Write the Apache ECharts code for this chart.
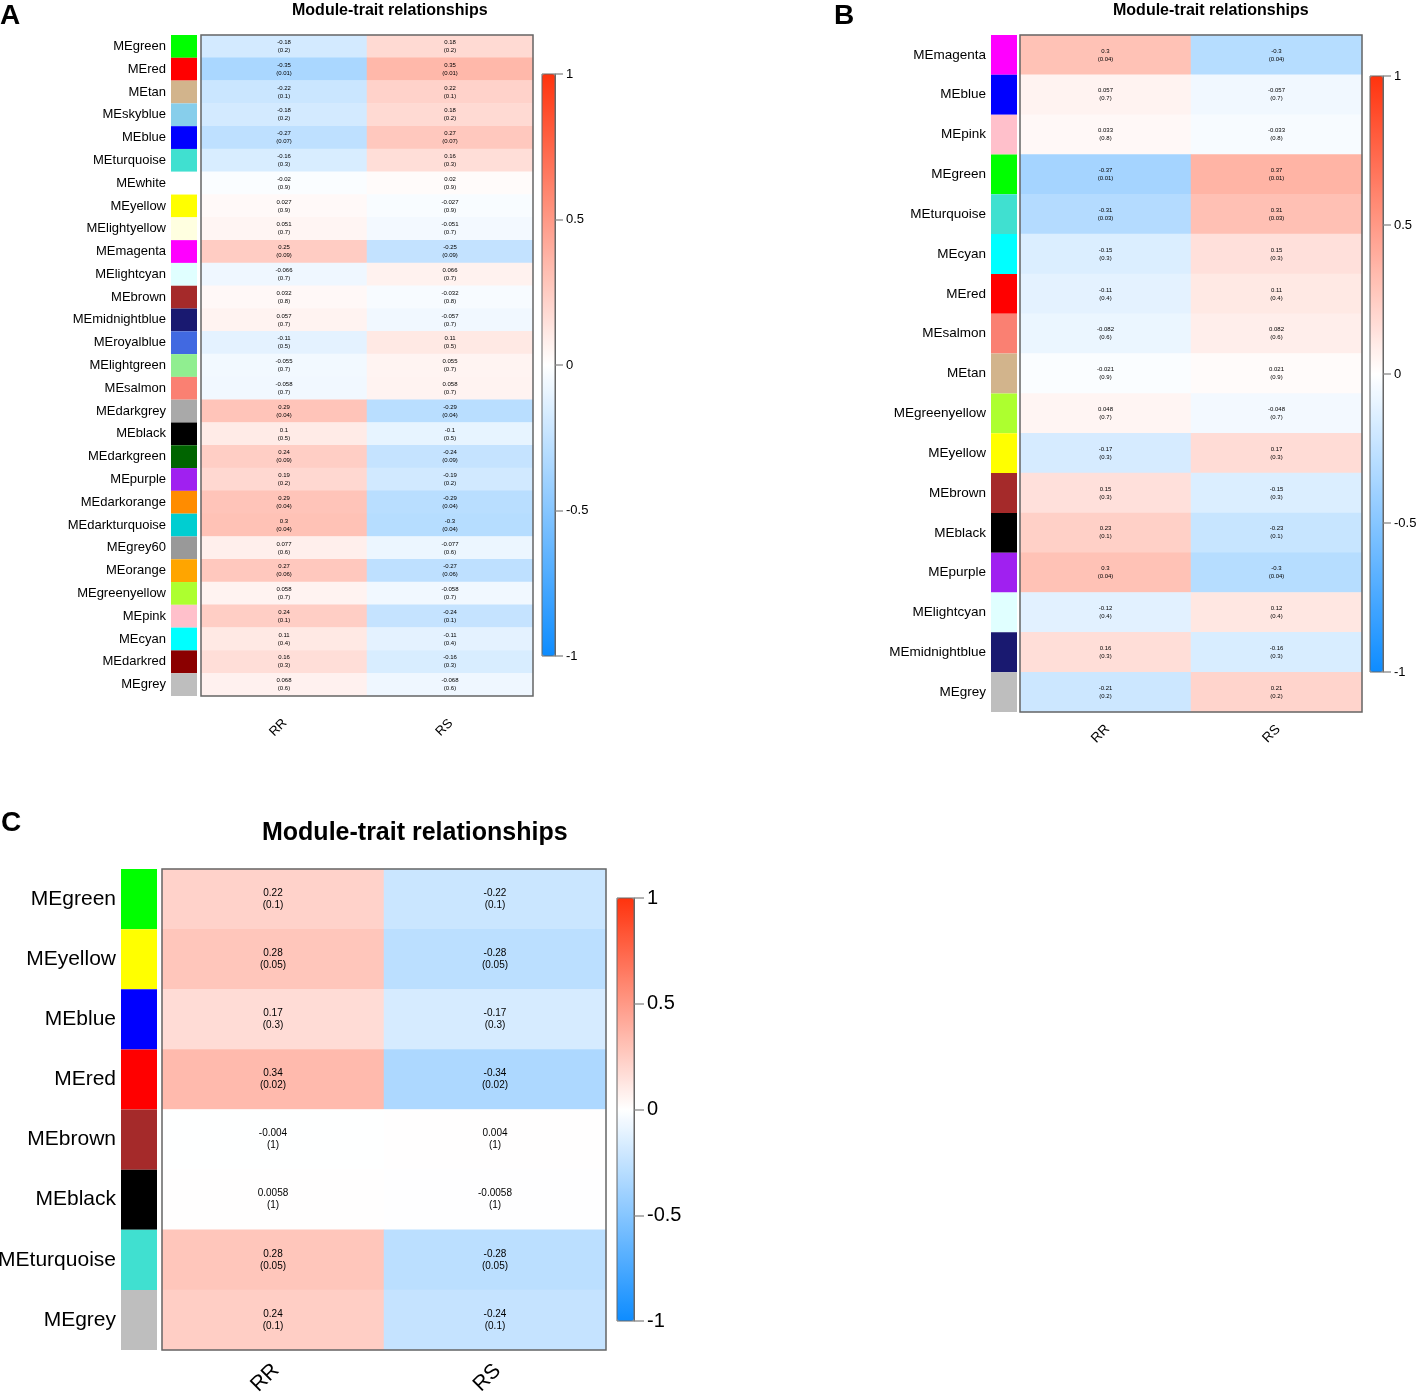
<!DOCTYPE html>
<html lang="en">
<head>
<meta charset="UTF-8">
<title>Module-trait relationships</title>
<script src="https://cdn.jsdelivr.net/npm/echarts@6/dist/echarts.min.js"></script>
<style>
    html, body { margin: 0; padding: 0; background: #fff; }
</style>
</head>
<body>
<div id="main" style="width:1418px;height:1394px;"></div>

<script type="text/javascript">
    // traits (columns)
    var traits = ['RR', 'RS'];

    // panel A
    var modulesA = ['MEgreen', 'MEred', 'MEtan', 'MEskyblue', 'MEblue', 'MEturquoise', 'MEwhite', 'MEyellow',
        'MElightyellow', 'MEmagenta', 'MElightcyan', 'MEbrown', 'MEmidnightblue', 'MEroyalblue', 'MElightgreen',
        'MEsalmon', 'MEdarkgrey', 'MEblack', 'MEdarkgreen', 'MEpurple', 'MEdarkorange', 'MEdarkturquoise',
        'MEgrey60', 'MEorange', 'MEgreenyellow', 'MEpink', 'MEcyan', 'MEdarkred', 'MEgrey'];
    var rrA = [-0.18, -0.35, -0.22, -0.18, -0.27, -0.16, -0.02, 0.027, 0.051, 0.25, -0.066, 0.032, 0.057, -0.11,
        -0.055, -0.058, 0.29, 0.1, 0.24, 0.19, 0.29, 0.3, 0.077, 0.27, 0.058, 0.24, 0.11, 0.16, 0.068];
    var rsA = [0.18, 0.35, 0.22, 0.18, 0.27, 0.16, 0.02, -0.027, -0.051, -0.25, 0.066, -0.032, -0.057, 0.11,
        0.055, 0.058, -0.29, -0.1, -0.24, -0.19, -0.29, -0.3, -0.077, -0.27, -0.058, -0.24, -0.11, -0.16, -0.068];
    var pA = [0.2, 0.01, 0.1, 0.2, 0.07, 0.3, 0.9, 0.9, 0.7, 0.09, 0.7, 0.8, 0.7, 0.5, 0.7, 0.7, 0.04, 0.5, 0.09,
        0.2, 0.04, 0.04, 0.6, 0.06, 0.7, 0.1, 0.4, 0.3, 0.6];

    // panel B
    var modulesB = ['MEmagenta', 'MEblue', 'MEpink', 'MEgreen', 'MEturquoise', 'MEcyan', 'MEred', 'MEsalmon',
        'MEtan', 'MEgreenyellow', 'MEyellow', 'MEbrown', 'MEblack', 'MEpurple', 'MElightcyan', 'MEmidnightblue', 'MEgrey'];
    var rrB = [0.3, 0.057, 0.033, -0.37, -0.31, -0.15, -0.11, -0.082, -0.021, 0.048, -0.17, 0.15, 0.23, 0.3, -0.12, 0.16, -0.21];
    var rsB = [-0.3, -0.057, -0.033, 0.37, 0.31, 0.15, 0.11, 0.082, 0.021, -0.048, 0.17, -0.15, -0.23, -0.3, 0.12, -0.16, 0.21];
    var pB = [0.04, 0.7, 0.8, 0.01, 0.03, 0.3, 0.4, 0.6, 0.9, 0.7, 0.3, 0.3, 0.1, 0.04, 0.4, 0.3, 0.2];

    // panel C
    var modulesC = ['MEgreen', 'MEyellow', 'MEblue', 'MEred', 'MEbrown', 'MEblack', 'MEturquoise', 'MEgrey'];
    var rrC = [0.22, 0.28, 0.17, 0.34, -0.004, 0.0058, 0.28, 0.24];
    var rsC = [-0.22, -0.28, -0.17, -0.34, 0.004, -0.0058, -0.28, -0.24];
    var pC = [0.1, 0.05, 0.3, 0.02, 1, 1, 0.05, 0.1];

    // R colour names used by the module stripes
    var rColors = {
        green: '#00FF00', red: '#FF0000', tan: '#D2B48C', skyblue: '#87CEEB', blue: '#0000FF',
        turquoise: '#40E0D0', white: '#FFFFFF', yellow: '#FFFF00', lightyellow: '#FFFFE0', magenta: '#FF00FF',
        lightcyan: '#E0FFFF', brown: '#A52A2A', midnightblue: '#191970', royalblue: '#4169E1',
        lightgreen: '#90EE90', salmon: '#FA8072', darkgrey: '#A9A9A9', black: '#000000', darkgreen: '#006400',
        purple: '#A020F0', darkorange: '#FF8C00', darkturquoise: '#00CED1', grey60: '#999999', orange: '#FFA500',
        greenyellow: '#ADFF2F', pink: '#FFC0CB', cyan: '#00FFFF', darkred: '#8B0000', grey: '#BEBEBE'
    };

    var font = "'Liberation Sans', Arial, sans-serif";

    var panels = [
        {
            letter: 'A', modules: modulesA, rr: rrA, rs: rsA, p: pA,
            box: [201, 35, 332, 661], stripe: [171, 26], bar: [542, 74, 13, 582],
            title: [292, 3, 16], letterPos: [0, 2, 28], rowFont: 13, tickFont: 13, tickLen: 8,
            cellFont: 6, cellLine: 8, xMargin: 26, xPad: 16
        },
        {
            letter: 'B', modules: modulesB, rr: rrB, rs: rsB, p: pB,
            box: [1020, 35, 342, 677], stripe: [991, 26], bar: [1370, 76, 13, 596],
            title: [1113, 3, 16], letterPos: [834, 2, 28], rowFont: 13.5, tickFont: 13, tickLen: 8,
            cellFont: 6, cellLine: 8, xMargin: 17, xPad: 14
        },
        {
            letter: 'C', modules: modulesC, rr: rrC, rs: rsC, p: pC,
            box: [162, 869, 444, 481], stripe: [121, 36], bar: [617, 898, 17, 423],
            title: [262, 821, 25], letterPos: [1, 809, 28], rowFont: 21, tickFont: 20, tickLen: 10,
            cellFont: 10, cellLine: 12, xMargin: 20, xPad: 22
        }
    ];

    var option = {
        backgroundColor: '#fff',
        animation: false,
        textStyle: { fontFamily: font },
        title: [], grid: [], xAxis: [], yAxis: [], series: [], visualMap: []
    };

    panels.forEach(function (pn) {
        var g = option.grid.length;
        var b = pn.box;

        // heatmap box
        option.grid.push({ left: b[0], top: b[1], width: b[2], height: b[3], show: true, z: 5,
            outerBoundsMode: 'none', containLabel: false,
            backgroundColor: 'transparent', borderColor: '#666', borderWidth: 1.5 });
        // module colour stripe
        option.grid.push({ left: pn.stripe[0], top: b[1], width: pn.stripe[1], height: b[3],
            outerBoundsMode: 'none', containLabel: false });
        // colour bar
        option.grid.push({ left: pn.bar[0], top: pn.bar[1], width: pn.bar[2], height: pn.bar[3], show: true, z: 5,
            outerBoundsMode: 'none', containLabel: false,
            backgroundColor: 'transparent', borderColor: '#666', borderWidth: 1 });

        option.xAxis.push({
            type: 'category', gridIndex: g, data: traits,
            axisLine: { show: false }, axisTick: { show: false },
            axisLabel: { rotate: 45, margin: pn.xMargin, align: 'center', verticalAlign: 'middle',
                padding: [0, pn.xPad, 0, 0], fontSize: pn.rowFont, color: '#000', fontFamily: font }
        });
        option.yAxis.push({
            type: 'category', gridIndex: g, data: pn.modules, inverse: true,
            axisLine: { show: false }, axisTick: { show: false }, axisLabel: { show: false }
        });

        option.xAxis.push({ type: 'value', gridIndex: g + 1, min: 0, max: 1, show: false });
        option.yAxis.push({
            type: 'category', gridIndex: g + 1, data: pn.modules, inverse: true,
            axisLine: { show: false }, axisTick: { show: false },
            axisLabel: { margin: 5, fontSize: pn.rowFont, color: '#000', fontFamily: font }
        });

        option.xAxis.push({ type: 'value', gridIndex: g + 2, min: 0, max: 1, show: false });
        option.yAxis.push({
            type: 'value', gridIndex: g + 2, min: -1, max: 1, interval: 0.5, position: 'right',
            splitLine: { show: false },
            axisLine: { show: true, onZero: false, lineStyle: { color: '#666', width: 1 } },
            axisTick: { show: true, inside: false, length: pn.tickLen, lineStyle: { color: '#999', width: 1.5 } },
            axisLabel: { margin: pn.tickLen + 3, fontSize: pn.tickFont, color: '#000', fontFamily: font }
        });

        var heat = [];
        pn.modules.forEach(function (m, i) {
            heat.push([0, i, pn.rr[i]]);
            heat.push([1, i, pn.rs[i]]);
        });

        var sIdx = option.series.length;
        var pv = pn.p;
        option.series.push({
            type: 'heatmap', xAxisIndex: g, yAxisIndex: g, data: heat,
            label: {
                show: true, color: '#000', fontSize: pn.cellFont, lineHeight: pn.cellLine, fontFamily: font,
                formatter: function (prm) {
                    return String(prm.data[2]) + '\n(' + String(pv[prm.data[1]]) + ')';
                }
            },
            emphasis: { disabled: true }
        });
        option.series.push({
            type: 'bar', xAxisIndex: g + 1, yAxisIndex: g + 1, barWidth: '100%', silent: true,
            data: pn.modules.map(function (m) {
                return { value: 1, itemStyle: { color: rColors[m.slice(2)] } };
            })
        });

        option.visualMap.push({
            type: 'continuous', min: -1, max: 1, seriesIndex: sIdx, calculable: false, hoverLink: false,
            left: pn.bar[0], top: pn.bar[1], itemWidth: pn.bar[2], itemHeight: pn.bar[3], padding: 0,
            text: null, showLabel: false,
            inRange: { color: ['#0D8CFF', '#FFFFFF', '#FF330D'] }
        });

        option.title.push({
            text: 'Module-trait relationships', left: pn.title[0], top: pn.title[1], padding: 0,
            textStyle: { fontSize: pn.title[2], fontWeight: 'bold', color: '#000', fontFamily: font }
        });
        option.title.push({
            text: pn.letter, left: pn.letterPos[0], top: pn.letterPos[1], padding: 0,
            textStyle: { fontSize: pn.letterPos[2], fontWeight: 'bold', color: '#000', fontFamily: font }
        });
    });

    var myChart = echarts.init(document.getElementById('main'));
    myChart.setOption(option);
</script>
</body>
</html>
